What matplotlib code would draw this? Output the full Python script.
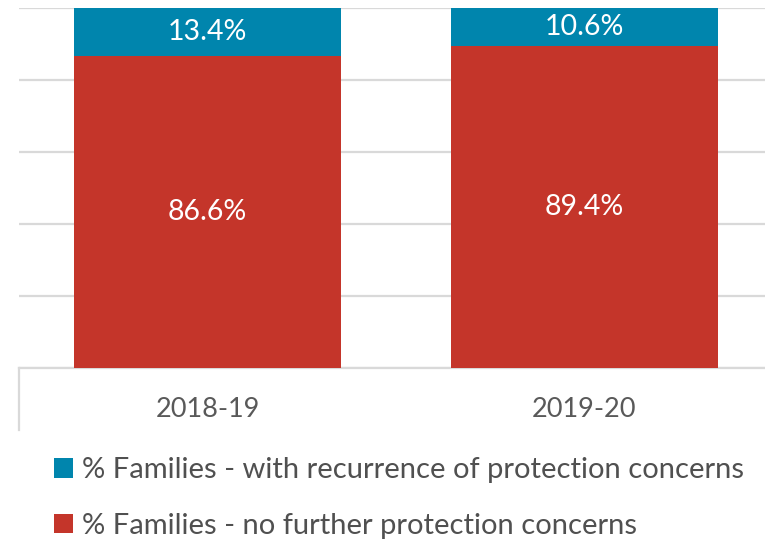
import matplotlib.pyplot as plt
import numpy as np

plt.rcParams["font.family"] = ["Lato", "DejaVu Sans"]

# data
years = ["2018-19", "2019-20"]
no_further = [86.6, 89.4]
recurrence = [13.4, 10.6]
series_names = ["% Families - no further protection concerns",
                "% Families - with recurrence of protection concerns"]

red = "#c4352a"
blue = "#0085ad"
grid_c = "#d9d9d9"
text_c = "#595959"

fig = plt.figure(figsize=(7.65, 5.42), dpi=100)
ax = fig.add_axes([19/765, 174/542, 1 - 19/765, 360/542])

x = np.arange(len(years))
w = 0.708
b1 = ax.bar(x, no_further, w, color=red, zorder=3, label=series_names[0])
b2 = ax.bar(x, recurrence, w, bottom=no_further, color=blue, zorder=3, label=series_names[1])

for bars, vals, base in [(b1, no_further, [0, 0]), (b2, recurrence, no_further)]:
    for r, v, b0 in zip(bars, vals, base):
        ax.text(r.get_x() + r.get_width()/2, b0 + v/2, f"{v:.1f}%",
                ha="center", va="center", color="white", fontsize=20.5, zorder=4)

ax.set_xlim(-0.5, 1.479)
ax.set_ylim(0, 100)
ax.set_yticks(np.arange(0, 101, 20))
ax.yaxis.grid(True, color=grid_c, linewidth=1.6, zorder=0)
ax.tick_params(axis="y", left=False, labelleft=False)
ax.set_xticks(x)
ax.set_xticklabels(years, fontsize=19.5, color=text_c)
ax.tick_params(axis="x", length=0, pad=21)
for s in ["top", "right", "left"]:
    ax.spines[s].set_visible(False)
ax.spines["bottom"].set_color(grid_c)
ax.spines["bottom"].set_linewidth(1.6)
# left tick line under axis
ax.plot([0, 0], [0, -62/360], transform=ax.transAxes, color=grid_c,
        linewidth=1.6, clip_on=False)

handles = [b2, b1]
leg = fig.legend(handles, [series_names[1], series_names[0]],
                 loc="upper left", bbox_to_anchor=(54/765, 1 - 457/542),
                 frameon=False, fontsize=21, handlelength=0.66, handleheight=0.66,
                 handletextpad=0.3, labelspacing=1.02, borderaxespad=0, borderpad=0)
for t in leg.get_texts():
    t.set_color("#505050")

fig.savefig("out.png", dpi=100)
